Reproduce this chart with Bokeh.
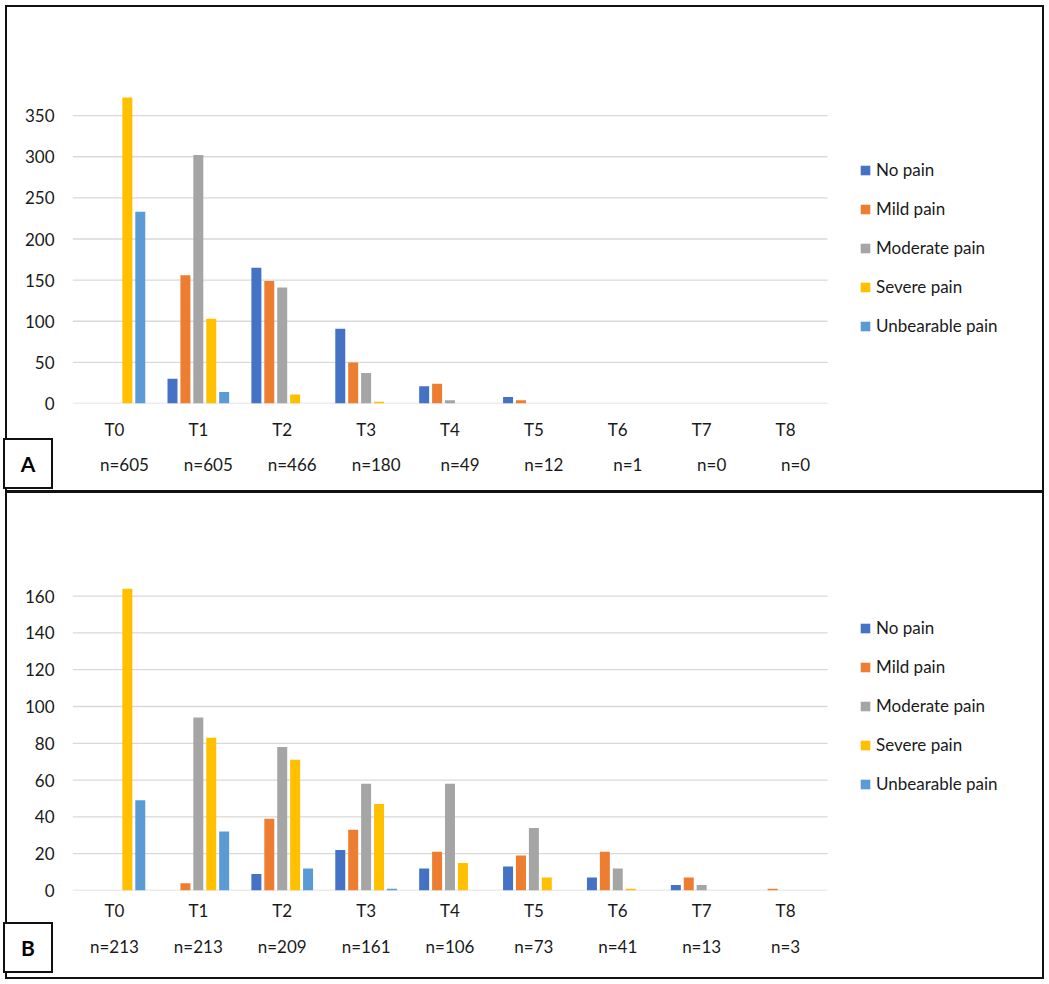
from bokeh.plotting import figure
from bokeh.models import (Range1d, FixedTicker, ColumnDataSource, Legend, LegendItem,
                          LinearAxis, LinearScale, Div)
from bokeh.transform import dodge
from bokeh.layouts import column
from bokeh.embed import file_html
from bokeh.resources import INLINE

timepoints = ["T0", "T1", "T2", "T3", "T4", "T5", "T6", "T7", "T8"]
series_names = ["No pain", "Mild pain", "Moderate pain", "Severe pain", "Unbearable pain"]
series_keys = ["no", "mild", "moderate", "severe", "unbearable"]
colors = ["#4472C4", "#ED7D31", "#A5A5A5", "#FFC000", "#5B9BD5"]

# Panel A
a_no_pain    = [0, 30, 165, 91, 21, 8, 0, 0, 0]
a_mild       = [0, 156, 149, 50, 24, 4, 0, 0, 0]
a_moderate   = [0, 302, 141, 37, 4, 0, 0, 0, 0]
a_severe     = [372, 103, 11, 2, 0, 0, 0, 0, 0]
a_unbearable = [233, 14, 0, 0, 0, 0, 0, 0, 0]
a_n          = [605, 605, 466, 180, 49, 12, 1, 0, 0]
a_ticks      = [0, 50, 100, 150, 200, 250, 300, 350]

# Panel B
b_no_pain    = [0, 0, 9, 22, 12, 13, 7, 3, 0]
b_mild       = [0, 4, 39, 33, 21, 19, 21, 7, 1]
b_moderate   = [0, 94, 78, 58, 58, 34, 12, 3, 0]
b_severe     = [164, 83, 71, 47, 15, 7, 1, 0, 0]
b_unbearable = [49, 32, 12, 1, 0, 0, 0, 0, 0]
b_n          = [213, 213, 209, 161, 106, 73, 41, 13, 3]
b_ticks      = [0, 20, 40, 60, 80, 100, 120, 140, 160]

FONT = "Lato"
TXT = "#1a1a1a"
W = 1039
LEFT, RIGHT = 65, 2
CAT_PX = 755 / len(timepoints)          # width of one category slot in pixels
FRAME_W = W - LEFT - RIGHT
X_START = -0.5
X_END = X_START + FRAME_W / CAT_PX      # frame also holds the legend on the right


def make_panel(values, ns, height, y_end, ticks, top, bottom, xlab_standoff,
               n_standoff, n_x_offset_px, legend_xy, styles):
    p = figure(x_range=Range1d(X_START, X_END), y_range=Range1d(0, y_end),
               width=W, height=height, output_backend="svg", toolbar_location=None,
               min_border_left=LEFT, min_border_right=RIGHT,
               min_border_top=top, min_border_bottom=bottom,
               outline_line_color=None, background_fill_color="white",
               border_fill_color="white")
    p.styles = styles

    idx = list(range(len(timepoints)))
    data = {"x": idx}
    for k, v in zip(series_keys, values):
        data[k] = v
    src = ColumnDataSource(data)

    # horizontal gridlines spanning only the category area
    p.xgrid.grid_line_color = None
    p.ygrid.grid_line_color = None
    p.segment(x0=X_START, x1=len(timepoints) - 0.5, y0=ticks, y1=ticks,
              line_color="#D9D9D9", line_width=1.3)

    step, bw = 0.154, 0.119
    renderers = []
    for i, (k, c) in enumerate(zip(series_keys, colors)):
        r = p.vbar(x=dodge("x", (i - 2) * step), top=k, width=bw,
                   source=src, fill_color=c, line_color=None)
        renderers.append(r)

    p.yaxis.ticker = FixedTicker(ticks=ticks)
    xa = p.xaxis[0]
    xa.ticker = FixedTicker(ticks=idx)
    xa.major_label_overrides = {i: t for i, t in zip(idx, timepoints)}

    # second axis below carrying the n= labels
    s = X_START - n_x_offset_px / CAT_PX
    p.extra_x_ranges = {"n": Range1d(s, s + (X_END - X_START))}
    p.extra_x_scales = {"n": LinearScale()}
    n_axis = LinearAxis(x_range_name="n", ticker=FixedTicker(ticks=idx),
                        major_label_overrides={i: "n=%d" % n for i, n in zip(idx, ns)})
    p.add_layout(n_axis, "below")

    for ax in (xa, n_axis, p.yaxis[0]):
        ax.axis_line_color = None
        ax.major_tick_line_color = None
        ax.minor_tick_line_color = None
        ax.major_tick_out = 0
        ax.major_tick_in = 0
        ax.minor_tick_out = 0
        ax.major_label_text_font = FONT
        ax.major_label_text_font_size = "17px"
        ax.major_label_text_color = TXT
    p.yaxis[0].major_label_standoff = 18
    xa.major_label_standoff = xlab_standoff
    n_axis.major_label_standoff = n_standoff

    lg = Legend(items=[LegendItem(label=n, renderers=[r])
                       for n, r in zip(series_names, renderers)],
                location=legend_xy,
                border_line_color=None, background_fill_alpha=0,
                label_text_font=FONT, label_text_font_size="17px",
                label_text_color=TXT, glyph_width=12, glyph_height=12,
                label_height=21, label_standoff=5, spacing=18, padding=4, margin=0)
    p.add_layout(lg, "center")
    return p


def letter_box(letter, top_px):
    return Div(text=letter, width=50, height=51,
               styles={"position": "absolute", "left": "-7px", "top": "%dpx" % top_px,
                       "border": "2px solid #111111", "background": "white",
                       "box-sizing": "border-box", "font-family": FONT,
                       "font-weight": "bold", "font-size": "21px", "color": "black",
                       "display": "flex", "align-items": "center",
                       "justify-content": "center", "z-index": "10"})


pa = make_panel([a_no_pain, a_mild, a_moderate, a_severe, a_unbearable], a_n,
                487, 400, a_ticks, 67, 91, 15, 11, 10, (787, 67),
                {"border": "2px solid #111111"})
pb = make_panel([b_no_pain, b_mild, b_moderate, b_severe, b_unbearable], b_n,
                487, 175, b_ticks, 75, 90, 9, 12, 0, (787, 96),
                {"border": "2px solid #111111", "border-top": "1px solid #111111"})

layout = column(pa, pb, letter_box("A", 428), letter_box("B", 912), spacing=0,
                styles={"margin-left": "5px", "margin-top": "5px", "position": "relative"})
open("out.html", "w").write(file_html(layout, INLINE))
